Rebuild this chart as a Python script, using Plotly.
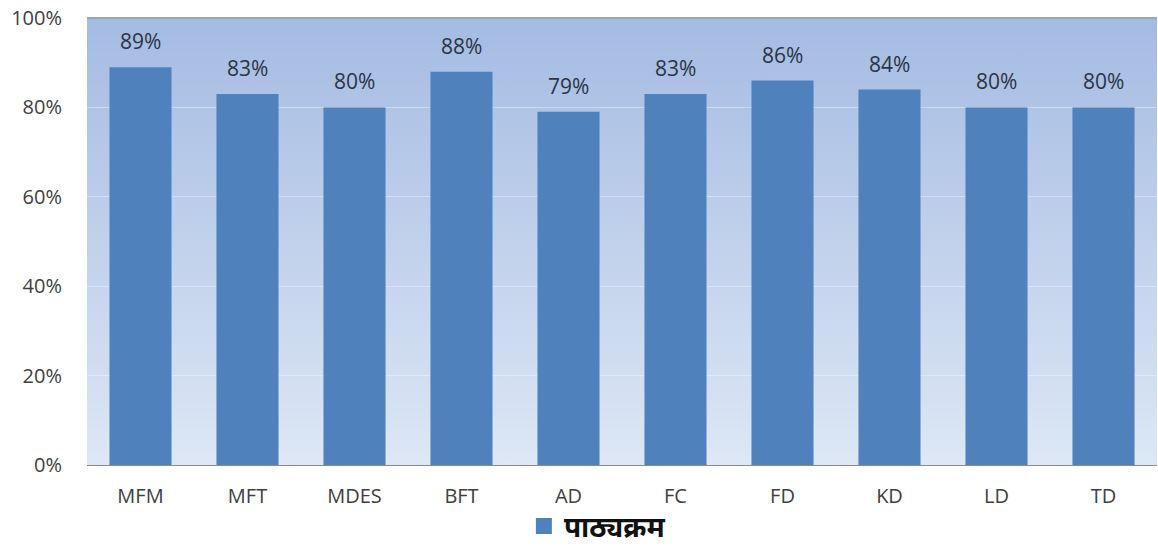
import plotly.graph_objects as go

categories = ["MFM", "MFT", "MDES", "BFT", "AD", "FC", "FD", "KD", "LD", "TD"]
values = [89, 83, 80, 88, 79, 83, 86, 84, 80, 80]
series_name = "पाठ्यक्रम"
y_ticks = [0, 20, 40, 60, 80, 100]
y_tick_labels = ["0%", "20%", "40%", "60%", "80%", "100%"]

bar_color = "#4F81BD"
tick_font = dict(family="Open Sans, Liberation Sans, sans-serif", size=20, color="#404040")

svg = ("data:image/svg+xml;utf8,<svg xmlns='http://www.w3.org/2000/svg' width='100' height='100' preserveAspectRatio='none'>"
       "<defs><linearGradient id='g' x1='0' y1='0' x2='0' y2='1'>"
       "<stop offset='0' stop-color='%23A4BBE2'/><stop offset='1' stop-color='%23DDE7F5'/>"
       "</linearGradient></defs><rect width='100' height='100' fill='url(%23g)'/></svg>")

fig = go.Figure()
fig.add_trace(go.Bar(
    x=categories, y=values, name=series_name, showlegend=False,
    marker=dict(color=bar_color, line=dict(width=0)),
))
# legend entry for the series (larger square swatch)
fig.add_trace(go.Scatter(
    x=[None], y=[None], mode="markers", name=series_name,
    marker=dict(symbol="square", size=17, color=bar_color),
))

for c, v in zip(categories, values):
    fig.add_annotation(x=c, y=v, text=f"{v}%", showarrow=False, yanchor="bottom", yshift=10,
                       font=dict(family="Open Sans, Liberation Sans, sans-serif", size=21, color="#2b3447"))

fig.update_layout(
    width=1158, height=551,
    margin=dict(l=87, r=1, t=18, b=86),
    paper_bgcolor="white",
    plot_bgcolor="rgba(0,0,0,0)",
    bargap=0.42,
    showlegend=True,
    legend=dict(orientation="h", x=0.477, xanchor="center", yref="container", y=0.045, yanchor="middle",
                bgcolor="rgba(0,0,0,0)",
                font=dict(family="Noto Sans, Noto Sans Devanagari, sans-serif", size=28, color="#111", weight="bold"),
                itemsizing="trace", itemwidth=30),
    images=[dict(source=svg, xref="paper", yref="paper", x=0, y=1, sizex=1, sizey=1,
                 xanchor="left", yanchor="top", sizing="stretch", layer="below")],
    xaxis=dict(tickfont=tick_font, automargin=False,
               showline=True, linecolor="#8c8c8c", linewidth=1, ticks="", ticklabelstandoff=13),
    yaxis=dict(range=[0, 100], tickvals=y_ticks, ticktext=y_tick_labels, automargin=False,
               tickfont=tick_font,
               showgrid=True, gridcolor="rgba(255,255,255,0.35)", gridwidth=1,
               zeroline=False, ticks="", ticklabelstandoff=24),
    shapes=[dict(type="line", xref="paper", yref="paper", x0=0, x1=1, y0=1, y1=1,
                 line=dict(color="#9aa6b8", width=2))],
)

fig.write_html("out.html", config={"displayModeBar": False},
               post_script="document.body.style.margin='0';")
